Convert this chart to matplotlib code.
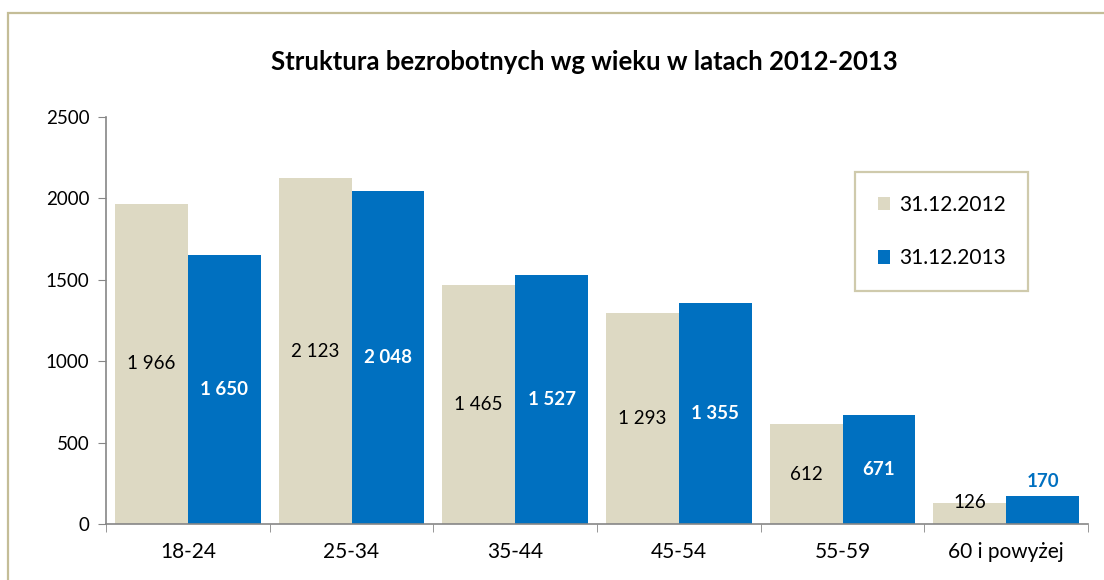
from matplotlib import pyplot as plt
from matplotlib.patches import Rectangle
import numpy as np

plt.rcParams['font.family'] = ['Lato', 'DejaVu Sans']

categories = ['18-24', '25-34', '35-44', '45-54', '55-59', '60 i powyżej']
vals_2012 = [1966, 2123, 1465, 1293, 612, 126]
vals_2013 = [1650, 2048, 1527, 1355, 671, 170]
labels = ['31.12.2012', '31.12.2013']
yticks = [0, 500, 1000, 1500, 2000, 2500]

c2012 = '#DDD9C3'
c2013 = '#0070C0'
axis_col = '#868686'


def fmt(v):
    return '{:,}'.format(v).replace(',', ' ')


fig = plt.figure(figsize=(11.04, 5.8), dpi=100)
# outer chart frame (runs off the right and bottom edges)
fig.patches.append(Rectangle((8 / 1104, -0.05), 1.1, 1.05 - 13 / 580,
                             transform=fig.transFigure, fill=False,
                             edgecolor='#C4BD97', linewidth=1.6))

ax = fig.add_axes([106 / 1104, 56 / 580, (1088 - 106) / 1104, (524 - 117) / 580])

x = np.arange(len(categories))
w = 0.446
ax.bar(x - w / 2, vals_2012, width=w, color=c2012, label=labels[0])
ax.bar(x + w / 2, vals_2013, width=w, color=c2013, label=labels[1])

for i, v in enumerate(vals_2012):
    ax.text(x[i] - w / 2, max(v / 2, 135), fmt(v), ha='center', va='center',
            fontsize=13.5, color='black')
for i, v in enumerate(vals_2013):
    if v < 300:
        ax.text(x[i] + w / 2, v + 40, fmt(v), ha='center', va='bottom',
                fontsize=13.5, color=c2013, fontweight='bold')
    else:
        ax.text(x[i] + w / 2, v / 2, fmt(v), ha='center', va='center',
                fontsize=13.5, color='white', fontweight='bold')

ax.set_xlim(-0.5, len(categories) - 0.5)
ax.set_ylim(0, 2500)
ax.set_yticks(yticks)
ax.set_yticklabels([str(t) for t in yticks], fontsize=13.5)
ax.set_xticks(x)
ax.set_xticklabels(categories, fontsize=15)
ax.set_xticks(np.arange(len(categories) + 1) - 0.5, minor=True)
ax.tick_params(axis='x', which='major', length=0, pad=13)
ax.tick_params(axis='x', which='minor', length=6, color=axis_col)
ax.tick_params(axis='y', length=6, color=axis_col, pad=6)

for s in ['top', 'right']:
    ax.spines[s].set_visible(False)
for s in ['left', 'bottom']:
    ax.spines[s].set_color(axis_col)
    ax.spines[s].set_linewidth(1.2)

fig.text(0.529, 1 - 62 / 580, 'Struktura bezrobotnych wg wieku w latach 2012-2013',
         ha='center', va='center', fontsize=18.5, fontweight='bold')

leg = ax.legend(loc='upper left', bbox_to_anchor=((855 - 106) / 982, (524 - 172) / 407),
                fontsize=15, frameon=True, fancybox=False, handlelength=0.6,
                handleheight=0.6, handletextpad=0.4, labelspacing=1.6,
                borderpad=1.1, borderaxespad=0)
leg.get_frame().set_edgecolor('#C4BD97')
leg.get_frame().set_linewidth(1.6)

plt.savefig('out.png', dpi=100)
